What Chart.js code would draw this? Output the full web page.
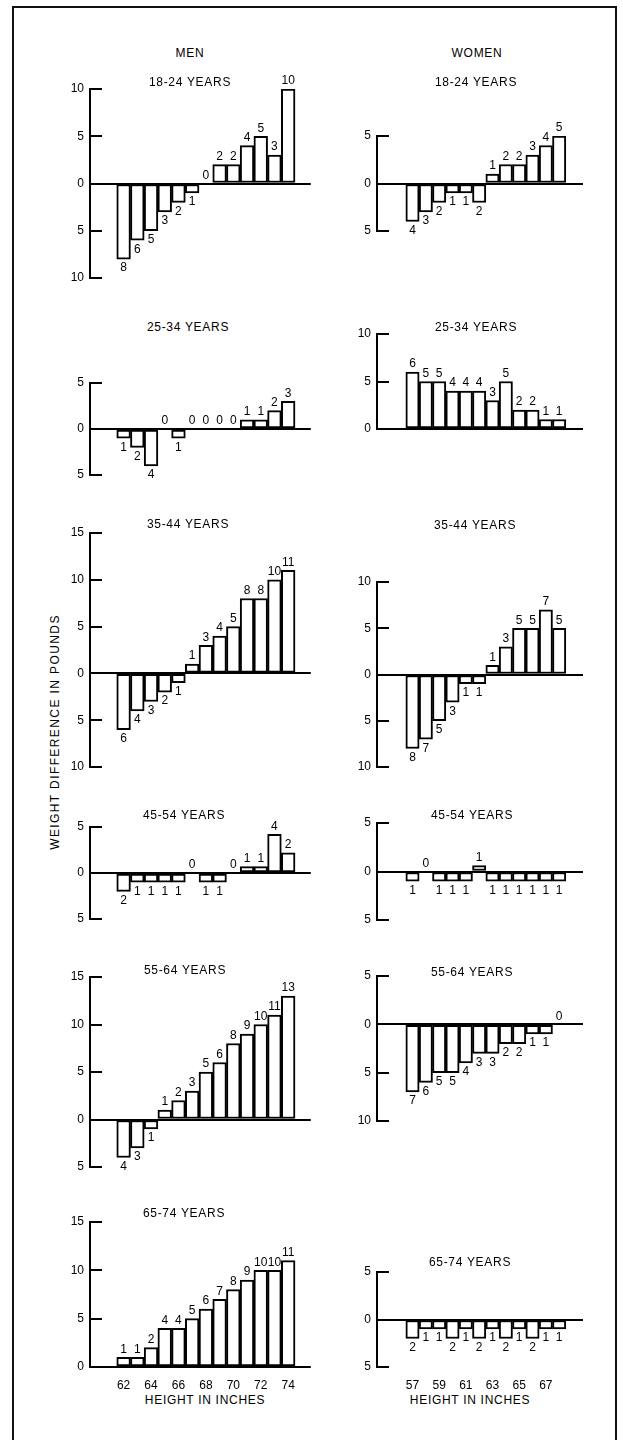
<!DOCTYPE html>
<html><head><meta charset="utf-8">
<script src="https://cdn.jsdelivr.net/npm/chart.js@4/dist/chart.umd.min.js"></script>
<style>
body{margin:0;background:#fff;width:623px;height:1440px;position:relative;overflow:hidden;font-family:"Liberation Sans",Arial,sans-serif;color:#000}
.t{position:absolute;transform:translate(-50%,-50%);white-space:nowrap;font-size:12px;letter-spacing:0.7px}
canvas{position:absolute}
#frame{position:absolute;left:12px;top:6px;width:601px;height:1460px;border:2px solid #111}
#ytitle{position:absolute;left:55px;top:732px;transform:translate(-50%,-50%) rotate(-90deg);white-space:nowrap;font-size:12px;letter-spacing:1.4px}
</style></head><body>
<div id="frame"></div>
<div id="ytitle">WEIGHT DIFFERENCE IN POUNDS</div>
<script>
// ---- DATA ----
const menHeights   = [62,63,64,65,66,67,68,69,70,71,72,73,74];
const womenHeights = [57,58,59,60,61,62,63,64,65,66,67,68];
const menTickLabels   = [62,64,66,68,70,72,74];
const womenTickLabels = [57,59,61,63,65,67];
const ageGroups = ['18-24 YEARS','25-34 YEARS','35-44 YEARS','45-54 YEARS','55-64 YEARS','65-74 YEARS'];

const men18_24 = [-8,-6,-5,-3,-2,-1,0,2,2,4,5,3,10];
const men25_34 = [-1,-2,-4,0,-1,0,0,0,0,1,1,2,3];
const men35_44 = [-6,-4,-3,-2,-1,1,3,4,5,8,8,10,11];
const men45_54 = [-2,-1,-1,-1,-1,0,-1,-1,0,0.7,0.7,4.2,2.2];
const men55_64 = [-4,-3,-1,1,2,3,5,6,8,9,10,11,13];
const men65_74 = [1,1,2,4,4,5,6,7,8,9,10,10,11];

const women18_24 = [-4,-3,-2,-1,-1,-2,1,2,2,3,4,5];
const women25_34 = [6,5,5,4,4,4,3,5,2,2,1,1];
const women35_44 = [-8,-7,-5,-3,-1,-1,1,3,5,5,7,5];
const women45_54 = [-1,0,-1,-1,-1,0.6,-1,-1,-1,-1,-1,-1];
const women55_64 = [-7,-6,-5,-5,-4,-3,-3,-2,-2,-1,-1,0];
const women65_74 = [-2,-1,-1,-2,-1,-2,-1,-2,-1,-2,-1,-1];

// ---- LAYOUT ----
const FONT = '"Liberation Sans", Arial, sans-serif';
const YW=40, PADT=22, PADB=22, XH=26, PXU=16;
const menPanels = [
  {values:men18_24,min:-10,max:10,top:89,bottom:278,tx:190,ty:82},
  {values:men25_34,min:-5,max:5,top:383,bottom:475,tx:188,ty:327},
  {values:men35_44,min:-10,max:15,top:533,bottom:767,tx:188,ty:524},
  {values:men45_54,min:-5,max:5,top:827,bottom:919,tx:184,ty:815},
  {values:men55_64,min:-5,max:15,top:977,bottom:1167,tx:185,ty:970},
  {values:men65_74,min:0,max:15,top:1222,bottom:1367,tx:184,ty:1213,showX:true}
];
const womenPanels = [
  {values:women18_24,min:-5,max:5,top:136,bottom:231,tx:476,ty:82},
  {values:women25_34,min:0,max:10,top:334,bottom:429,tx:476,ty:327},
  {values:women35_44,min:-10,max:10,top:582,bottom:767,tx:475,ty:525},
  {values:women45_54,min:-5,max:5,top:823,bottom:920,tx:472,ty:815},
  {values:women55_64,min:-10,max:5,top:976,bottom:1121,tx:472,ty:972},
  {values:women65_74,min:-5,max:5,top:1272,bottom:1367,tx:470,ty:1262,showX:true}
];

function addText(txt,x,y){const d=document.createElement('div');d.className='t';d.textContent=txt;d.style.left=x+'px';d.style.top=y+'px';document.body.appendChild(d);}
addText('MEN',190,53); addText('WOMEN',477,53);
addText('HEIGHT IN INCHES',205,1400); addText('HEIGHT IN INCHES',470,1400);

const inTicks={id:'inTicks',afterDatasetsDraw(chart){
  const y=chart.scales.y,ctx=chart.ctx,L=chart.chartArea.left;
  ctx.save();ctx.strokeStyle='#000';ctx.lineWidth=2;
  y.ticks.forEach(t=>{const py=Math.round(y.getPixelForValue(t.value));ctx.beginPath();ctx.moveTo(L,py);ctx.lineTo(L+12,py);ctx.stroke();});
  ctx.restore();}};
const valLabels={id:'valLabels',afterDatasetsDraw(chart){
  const ctx=chart.ctx,meta=chart.getDatasetMeta(0),d=chart.data.datasets[0].data;
  ctx.save();ctx.font='12px '+FONT;ctx.fillStyle='#000';ctx.textAlign='center';
  meta.data.forEach((el,i)=>{const v=d[i].y;const s=String(Math.round(Math.abs(v)));
    if(v<0){ctx.textBaseline='top';ctx.fillText(s,el.x,el.y+3);}
    else{ctx.textBaseline='bottom';ctx.fillText(s,el.x,el.y-2);}});
  ctx.restore();}};

function makePanel(p,heights,ticksX,axisX,gap){
  const xmin=heights[0]-0.5-gap, xmax=heights[heights.length-1]+0.5;
  const plotW=(xmax-xmin)*PXU, plotH=p.bottom-p.top;
  const W=Math.round(YW+plotW+12), H=PADT+plotH+PADB+(p.showX?XH:0);
  const c=document.createElement('canvas');c.width=W;c.height=H;
  c.style.left=(axisX-YW)+'px';c.style.top=(p.top-PADT)+'px';
  document.body.appendChild(c);
  new Chart(c,{type:'bar',
    data:{datasets:[{data:heights.map((h,i)=>({x:h,y:p.values[i]})),backgroundColor:'#fff',borderColor:'#000',borderWidth:2,borderSkipped:false,barPercentage:1,categoryPercentage:1}]},
    options:{responsive:false,animation:false,devicePixelRatio:1,
      layout:{padding:{top:PADT,bottom:PADB,left:0,right:W-YW-plotW}},
      plugins:{legend:{display:false},tooltip:{enabled:false}},
      scales:{
        x:{type:'linear',min:xmin,max:xmax,display:!!p.showX,
          afterBuildTicks:s=>{s.ticks=ticksX.map(v=>({value:v}));},
          afterFit:s=>{s.height=p.showX?XH:0;},
          grid:{display:false,drawTicks:false},border:{display:false},
          ticks:{padding:11,autoSkip:false,maxRotation:0,color:'#000',font:{family:FONT,size:12},callback:v=>String(v)}},
        y:{min:p.min,max:p.max,afterFit:s=>{s.width=YW;},
          ticks:{stepSize:5,padding:6,color:'#000',font:{family:FONT,size:12},callback:v=>String(Math.abs(v))},
          grid:{drawTicks:false,color:c=>(c.tick&&c.tick.value===0)?'#000':'rgba(0,0,0,0)',lineWidth:2},
          border:{display:true,color:'#000',width:2}}
      }},
    plugins:[inTicks,valLabels]});
  addText(ageGroups[p.idx],p.tx,p.ty);
}
menPanels.forEach((p,i)=>{p.idx=i;makePanel(p,menHeights,menTickLabels,90,0.8);});
womenPanels.forEach((p,i)=>{p.idx=i;makePanel(p,womenHeights,womenTickLabels,377,0.875);});
</script>
</body></html>
